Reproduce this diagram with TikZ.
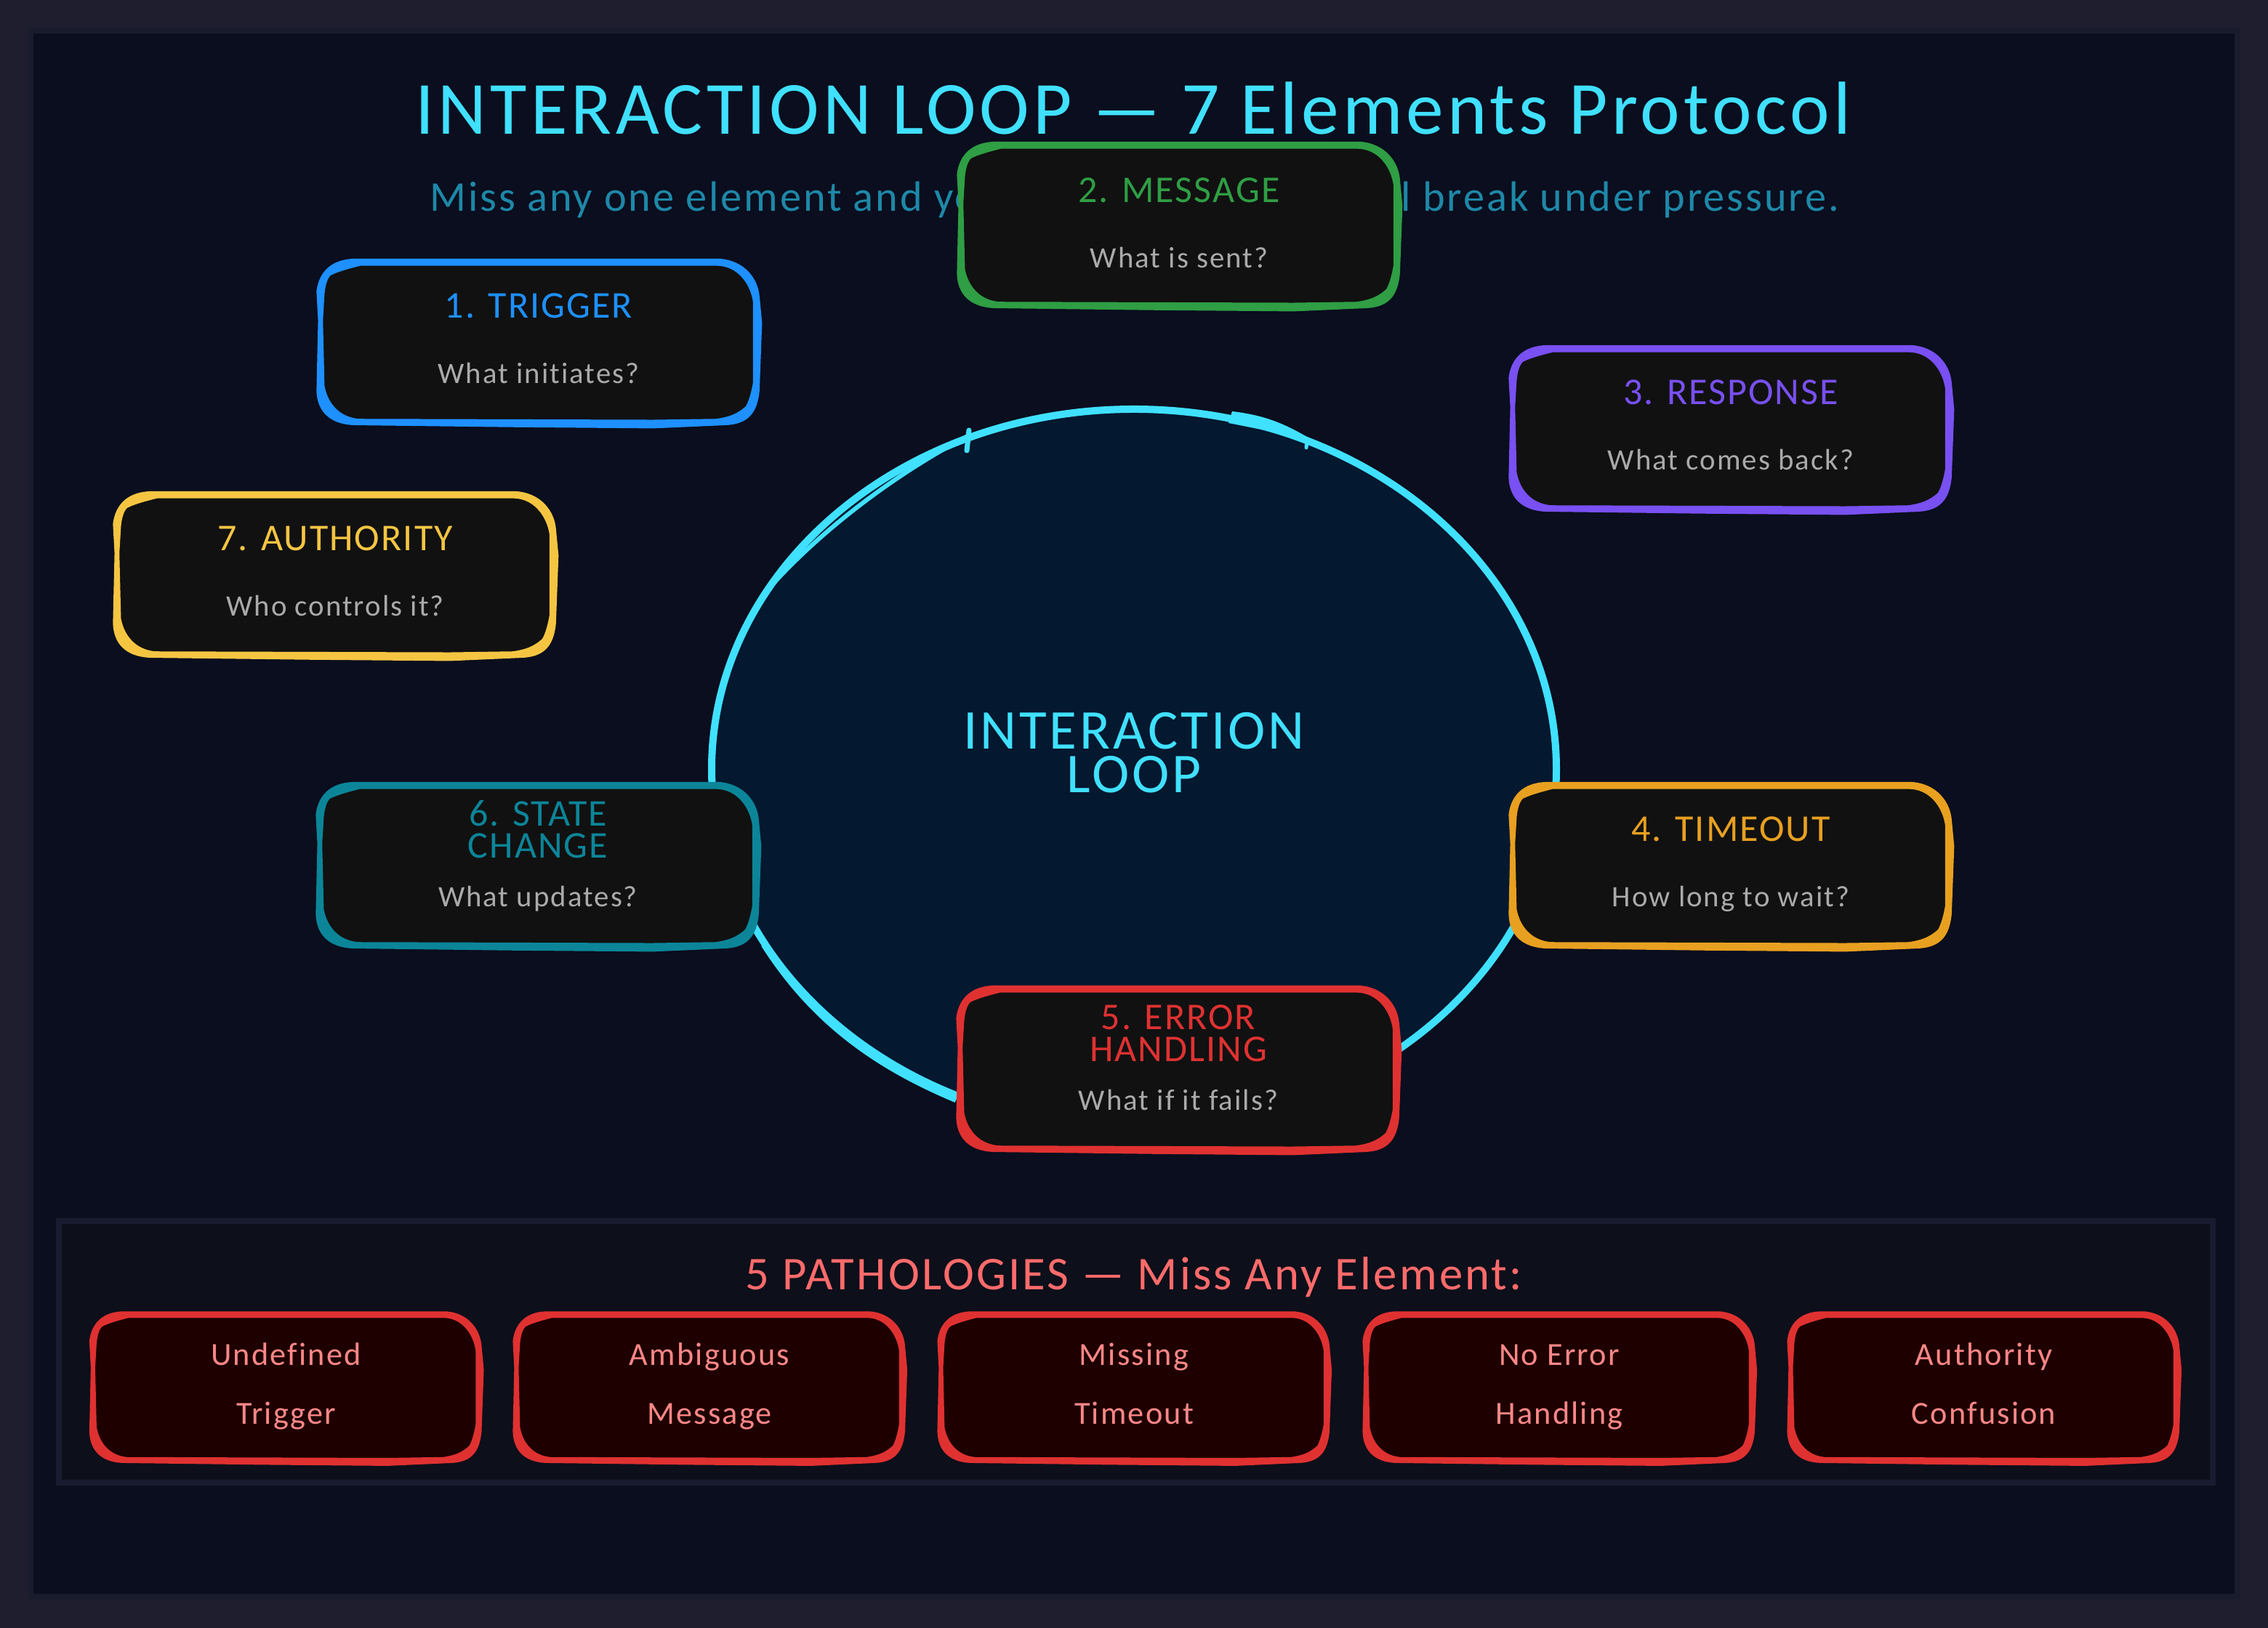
\documentclass[tikz,border=0pt]{standalone}
\usepackage{fontspec}
\setmainfont{Carlito}[Ligatures=CommonOff]

\definecolor{framebg}{HTML}{1E1E2E}
\definecolor{framerim}{HTML}{191C2C}
\definecolor{panelbg}{HTML}{0A0E1E}
\definecolor{patbg}{HTML}{0D0F1A}
\definecolor{patrim}{HTML}{191C30}
\definecolor{loopcyan}{HTML}{40E0FF}
\definecolor{subcyan}{HTML}{1E88A8}
\definecolor{loopfill}{HTML}{04182F}
\definecolor{boxfill}{HTML}{111111}
\definecolor{asktext}{HTML}{AAAAAA}
\definecolor{trigblue}{HTML}{1E90FF}
\definecolor{msggreen}{HTML}{2F9E44}
\definecolor{resppurple}{HTML}{7950F2}
\definecolor{waitorange}{HTML}{E8A020}
\definecolor{errred}{HTML}{E03131}
\definecolor{stateteal}{HTML}{0C8599}
\definecolor{authyellow}{HTML}{F5C542}
\definecolor{patfill}{HTML}{1E0000}
\definecolor{pattext}{HTML}{FF8787}
\definecolor{pathead}{HTML}{FF6B6B}

% wobbly outline of a box, outer and inner edge of the stroke
\newcommand{\sketchouter}{(-2.541,1.153) -- (2.489,1.153)
  .. controls (2.836,1.127) and (3.01,0.877) .. (3.031,0.643)
  -- (3.066,0.277) -- (3.031,-0.657)
  .. controls (3.001,-0.957) and (2.879,-1.107) .. (2.576,-1.123)
  -- (1.578,-1.167) -- (-0.373,-1.15) -- (-2.541,-1.123)
  .. controls (-2.888,-1.107) and (-3.04,-0.923) .. (-3.049,-0.657)
  -- (-3.027,0.31) -- (-3.049,0.71)
  .. controls (-3.018,0.977) and (-2.845,1.143) .. cycle}
\newcommand{\sketchinner}{(-2.454,1.07) -- (2.467,1.07)
  .. controls (2.749,1.06) and (2.923,0.81) .. (2.957,0.56)
  -- (2.957,-0.54)
  .. controls (2.931,-0.69) and (2.901,-0.79) .. (2.858,-0.873)
  .. controls (2.728,-0.99) and (2.619,-1.023) .. (2.446,-1.05)
  -- (1.578,-1.063) -- (-2.476,-1.05)
  .. controls (-2.758,-1.023) and (-2.91,-0.823) .. (-2.953,-0.59)
  -- (-2.975,0.31) -- (-2.953,0.677)
  .. controls (-2.94,0.81) and (-2.91,0.893) .. (-2.866,0.937)
  .. controls (-2.758,0.993) and (-2.584,1.037) .. cycle}

\tikzset{
  elemslot/.style={inner sep=0pt, minimum width=6.02cm, minimum height=2.22cm},
  patslot/.style={inner sep=0pt, minimum width=5.3cm, minimum height=2.02cm},
  elemtitle/.style={inner sep=0pt, align=center, font=\fontsize{14.8}{12.5}\selectfont\addfontfeature{LetterSpace=4}},
  asktitle/.style={inner sep=0pt, text=asktext, text height=0.3cm, text depth=0.1cm, font=\fontsize{11.6}{14}\selectfont\addfontfeature{LetterSpace=5}},
  patlabel/.style={inner sep=0pt, text=pattext, text height=0.3cm, text depth=0.1cm, font=\fontsize{12.6}{15}\selectfont\addfontfeature{LetterSpace=5}},
}

% name, position, stroke colour
\newcommand{\elembox}[3]{
  \node[elemslot] (#1) at (#2) {};
  \fill[boxfill, shift={(#1.center)}] \sketchinner;
  \filldraw[#3, line width=0.015cm, line join=round, even odd rule, shift={(#1.center)}] \sketchouter \sketchinner;
}
% name, position
\newcommand{\patbox}[2]{
  \node[patslot] (#1) at (#2) {};
  \fill[patfill, shift={(#1.center)}, xscale=0.885, yscale=0.91] \sketchinner;
  \filldraw[errred, line width=0.015cm, line join=round, even odd rule, shift={(#1.center)}, xscale=0.885, yscale=0.91] \sketchouter \sketchinner;
}

\begin{document}
\begin{tikzpicture}
        \useasboundingbox (0,0) rectangle (31.2,22.4);
        \fill[framebg] (0,0) rectangle (31.2,22.4);
        \draw[framerim, line width=0.08cm, fill=panelbg] (0.42,0.43) rectangle (30.78,21.98);

        % Heading
        \node[inner sep=0pt, text=loopcyan, font=\fontsize{29.4}{32}\selectfont\addfontfeature{LetterSpace=5}] (heading) at (15.59,20.91) {INTERACTION LOOP — 7 Elements Protocol};
        \node[inner sep=0pt, text=subcyan, font=\fontsize{16.6}{20}\selectfont\addfontfeature{LetterSpace=5}] (subheading) at (15.61,19.65) {Miss any one element and your interaction loop will break under pressure.};

        % Central loop
        \draw[loopcyan, fill=loopfill, line width=0.1cm] (15.6,11.82) ellipse (5.81 and 4.95);
        \draw[loopcyan, line width=0.06cm] (10.62,14.35) .. controls (11.25,15.05) and (12.25,15.85) .. (13.35,16.42);
        \draw[loopcyan, line width=0.07cm, line cap=round] (13.33,16.48) -- (13.3,16.2);
        \fill[loopcyan] (16.95,16.74) .. controls (17.45,16.68) and (17.7,16.55) .. (18.05,16.35) -- (16.9,16.58) -- cycle;
        \draw[loopcyan, line width=0.05cm, line cap=round] (17.98,16.35) -- (17.97,16.24);
        \draw[loopcyan, line width=0.065cm] (10.5,9.4) .. controls (11.2,8.3) and (12.1,7.7) .. (13.15,7.26);
        \node[inner sep=0pt, text=loopcyan, align=center, font=\fontsize{22}{17}\selectfont\addfontfeature{LetterSpace=5}] (looplabel) at (15.6,12.04) {INTERACTION\\LOOP};

        % Seven elements
        \elembox{trigger}{7.41,17.68}{trigblue}
        \node[elemtitle, text=trigblue, yshift=0.51cm] (triggerhead) at (trigger) {1. TRIGGER};
        \node[asktitle, yshift=-0.46cm] (triggerask) at (trigger) {What initiates?};

        \elembox{message}{16.22,19.29}{msggreen}
        \node[elemtitle, text=msggreen, yshift=0.49cm] (messagehead) at (message) {2. MESSAGE};
        \node[asktitle, yshift=-0.48cm] (messageask) at (message) {What is sent?};

        \elembox{response}{23.81,16.49}{resppurple}
        \node[elemtitle, text=resppurple, yshift=0.51cm] (responsehead) at (response) {3. RESPONSE};
        \node[asktitle, yshift=-0.46cm] (responseask) at (response) {What comes back?};

        \elembox{timeout}{23.81,10.48}{waitorange}
        \node[elemtitle, text=waitorange, yshift=0.51cm] (timeouthead) at (timeout) {4. TIMEOUT};
        \node[asktitle, yshift=-0.46cm] (timeoutask) at (timeout) {How long to wait?};

        \elembox{errorh}{16.21,7.68}{errred}
        \node[elemtitle, text=errred, yshift=0.50cm] (errorhhead) at (errorh) {5. ERROR\\HANDLING};
        \node[asktitle, yshift=-0.46cm] (errorhask) at (errorh) {What if it fails?};

        \elembox{state}{7.40,10.48}{stateteal}
        \node[elemtitle, text=stateteal, yshift=0.51cm] (statehead) at (state) {6. STATE\\CHANGE};
        \node[asktitle, yshift=-0.46cm] (stateask) at (state) {What updates?};

        \elembox{authority}{4.61,14.48}{authyellow}
        \node[elemtitle, text=authyellow, yshift=0.51cm] (authorityhead) at (authority) {7. AUTHORITY};
        \node[asktitle, yshift=-0.46cm] (authorityask) at (authority) {Who controls it?};

        % Pathologies
        \draw[patrim, line width=0.08cm, fill=patbg] (0.81,2.0) rectangle (30.44,5.6);
        \node[inner sep=0pt, text=pathead, font=\fontsize{18.4}{21}\selectfont\addfontfeature{LetterSpace=5}] (pathhead) at (15.6,4.83) {5 PATHOLOGIES — Miss Any Element:};

        \patbox{undefined}{3.935,3.3}
        \node[patlabel, yshift=0.41cm] (undefinedtop) at (undefined) {Undefined};
        \node[patlabel, yshift=-0.40cm] (undefinedlow) at (undefined) {Trigger};

        \patbox{ambiguous}{9.76,3.3}
        \node[patlabel, yshift=0.41cm] (ambiguoustop) at (ambiguous) {Ambiguous};
        \node[patlabel, yshift=-0.40cm] (ambiguouslow) at (ambiguous) {Message};

        \patbox{missing}{15.6,3.3}
        \node[patlabel, yshift=0.41cm] (missingtop) at (missing) {Missing};
        \node[patlabel, yshift=-0.40cm] (missinglow) at (missing) {Timeout};

        \patbox{noerror}{21.45,3.3}
        \node[patlabel, yshift=0.41cm] (noerrortop) at (noerror) {No Error};
        \node[patlabel, yshift=-0.40cm] (noerrorlow) at (noerror) {Handling};

        \patbox{confusion}{27.29,3.3}
        \node[patlabel, yshift=0.41cm] (confusiontop) at (confusion) {Authority};
        \node[patlabel, yshift=-0.40cm] (confusionlow) at (confusion) {Confusion};

      \end{tikzpicture}
\end{document}
